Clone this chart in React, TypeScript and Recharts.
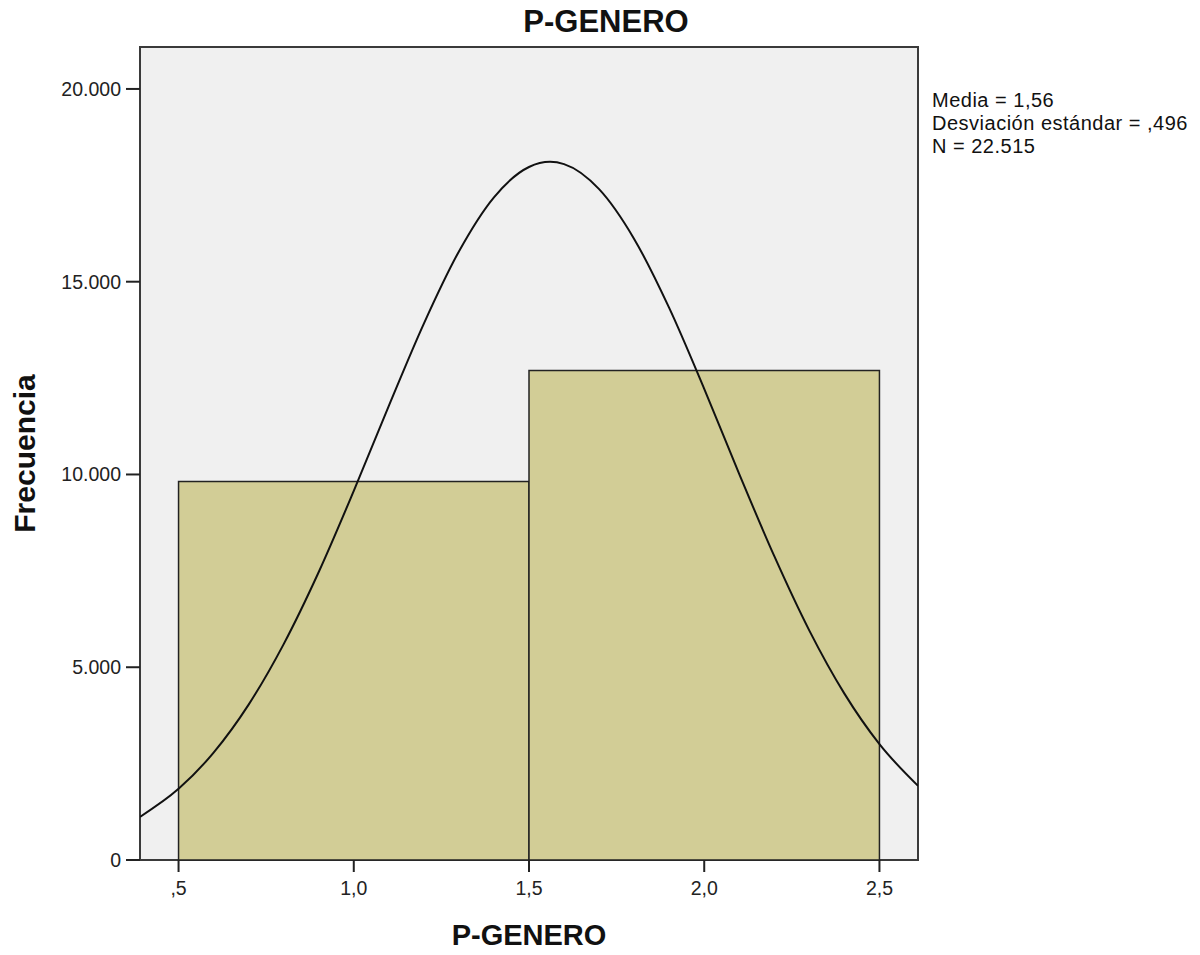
import {
  ComposedChart,
  Line,
  XAxis,
  YAxis,
  ReferenceArea,
  Label,
} from 'recharts'

// histogram bins (P-GENERO)
const binStart = [0.5, 1.5]
const binEnd = [1.5, 2.5]
const binCount = [9820, 12695]

// normal curve
const curveX = [
  0.39, 0.5, 0.6, 0.7, 0.8, 0.9, 1.0, 1.1, 1.2, 1.3, 1.4, 1.5, 1.56, 1.6, 1.7,
  1.8, 1.9, 2.0, 2.1, 2.2, 2.3, 2.4, 2.5, 2.61,
]
const curveY = [
  1120, 1845, 2785, 4030, 5600, 7470, 9575, 11780, 13915, 15785, 17190, 17975,
  18110, 18050, 17400, 16110, 14320, 12220, 10010, 7880, 5950, 4315, 3005, 1925,
]

const xTicks = [0.5, 1.0, 1.5, 2.0, 2.5]
const yTicks = [0, 5000, 10000, 15000, 20000]
const statLines = ['Media = 1,56', 'Desviación estándar = ,496', 'N = 22.515']

const X_MIN = 0.39
const X_MAX = 2.61
const Y_MAX = 21088

const fmtX = (v: number) => {
  const s = v.toFixed(1).replace('.', ',')
  return s.startsWith('0') ? s.slice(1) : s
}
const fmtY = (v: number) => (v === 0 ? '0' : v.toLocaleString('de-DE'))

const curveData = curveX.map((x, i) => ({ x, y: curveY[i] }))

const FONT = 'Arial, "Liberation Sans", sans-serif'

export default function App() {
  return (
    <div style={{ position: 'absolute', left: 0, top: 0, width: 1200, height: 955, background: '#fff', fontFamily: FONT }}>
      <ComposedChart
        width={1200}
        height={955}
        data={curveData}
        margin={{ top: 47, right: 282, bottom: 0, left: 0 }}
        style={{ position: 'absolute', left: 0, top: 0 }}
      >
        <XAxis
          dataKey="x"
          type="number"
          domain={[X_MIN, X_MAX]}
          ticks={xTicks}
          tickFormatter={fmtX}
          allowDataOverflow
          height={95}
          axisLine={false}
          tickLine={{ stroke: '#222', strokeWidth: 2 }}
          tickSize={12}
          tickMargin={9}
          tick={{ fill: '#222', fontSize: 19.5, fontFamily: FONT }}
        >
          <Label
            value="P-GENERO"
            position="insideBottom"
            offset={10}
            style={{ fontSize: 29, fontWeight: 'bold', fill: '#111', fontFamily: FONT }}
          />
        </XAxis>
        <YAxis
          type="number"
          domain={[0, Y_MAX]}
          ticks={yTicks}
          tickFormatter={fmtY}
          allowDataOverflow
          width={140}
          axisLine={false}
          tickLine={{ stroke: '#222', strokeWidth: 2 }}
          tickSize={14}
          tickMargin={5}
          tick={{ fill: '#222', fontSize: 19.5, fontFamily: FONT }}
        >
          <Label
            value="Frecuencia"
            angle={-90}
            position="insideLeft"
            offset={24}
            style={{ fontSize: 30, fontWeight: 'bold', fill: '#111', fontFamily: FONT, textAnchor: 'middle' }}
          />
        </YAxis>
        <ReferenceArea
          x1={X_MIN}
          x2={X_MAX}
          y1={0}
          y2={Y_MAX}
          fill="#f0f0f0"
          fillOpacity={1}
          stroke="#3a3a3a"
          strokeWidth={2}
        />
        {binCount.map((c, i) => (
          <ReferenceArea
            key={i}
            x1={binStart[i]}
            x2={binEnd[i]}
            y1={0}
            y2={c}
            fill="#d2cd96"
            fillOpacity={1}
            stroke="#222"
            strokeWidth={1.5}
          />
        ))}
        <Line
          dataKey="y"
          type="monotone"
          stroke="#111"
          strokeWidth={2}
          dot={false}
          isAnimationActive={false}
        />
      </ComposedChart>
      <div
        style={{
          position: 'absolute',
          top: 4,
          left: 0,
          width: 1212,
          textAlign: 'center',
          fontSize: 31,
          fontWeight: 'bold',
          color: '#111',
        }}
      >
        P-GENERO
      </div>
      <div
        style={{
          position: 'absolute',
          left: 932,
          top: 89,
          fontSize: 20,
          lineHeight: '23px',
          letterSpacing: '0.5px',
          color: '#111',
          whiteSpace: 'nowrap',
        }}
      >
        {statLines.map((t) => (
          <div key={t}>{t}</div>
        ))}
      </div>
    </div>
  )
}
